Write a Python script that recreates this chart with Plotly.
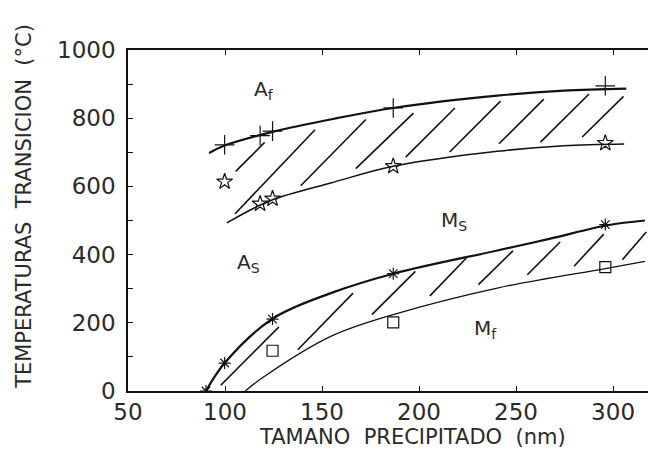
import plotly.graph_objects as go

# ---------------- data ----------------
# measured points
af_x = [99.8, 118.1, 124.5, 186.7, 296.0]
af_y = [722, 749, 762, 830, 895]
as_x = [99.8, 118.1, 124.5, 186.7, 296.0]
as_y = [614, 549, 564, 659, 727]
ms_x = [90.2, 99.8, 124.5, 186.7, 296.0]
ms_y = [0, 82, 211, 344, 488]
mf_x = [124.5, 186.7, 296.0]
mf_y = [118, 201, 363]

# fitted curves
af_cx = [91.8, 99.8, 124.5, 157.7, 186.7, 240.3, 274.6, 306.8]
af_cy = [698, 720, 760, 800, 830, 866, 881, 887]
as_cx = [100.9, 114.8, 124.5, 154.5, 186.7, 240.3, 274.6, 305.7]
as_cy = [493, 536, 561, 610, 659, 703, 719, 724]
ms_cx = [90.2, 99.8, 124.5, 154.5, 186.7, 240.3, 267.1, 297.1, 316.4]
ms_cy = [0, 82, 212, 287, 344, 412, 446, 486, 500]
mf_cx = [110.5, 119.1, 154.5, 186.7, 240.3, 296.0, 316.4]
mf_cy = [0, 38, 160, 224, 302, 359, 380]

# hatch strokes (start/end in data units)
hatch_up_x0 = [105.5, 105.2, 139.0, 167.4, 193.1, 215.8, 241.2, 262.6, 284.1]
hatch_up_y0 = [644, 520, 602, 652, 686, 701, 725, 730, 745]
hatch_up_x1 = [120.4, 146.4, 172.6, 197.1, 218.5, 242.0, 264.3, 287.6, 305.4]
hatch_up_y1 = [729, 766, 796, 815, 830, 850, 856, 871, 864]
hatch_lo_x0 = [97.8, 137.5, 175.7, 205.6, 230.6, 255.8, 279.9, 304.8]
hatch_lo_y0 = [17, 121, 224, 279, 312, 341, 366, 385]
hatch_lo_x1 = [127.8, 166.0, 198.1, 224.4, 248.4, 272.7, 295.2, 317.1]
hatch_lo_y1 = [188, 287, 351, 390, 411, 437, 460, 466]

labels = ["A<sub>f</sub>", "A<sub>S</sub>", "M<sub>S</sub>", "M<sub>f</sub>"]
label_x = [120, 112, 218, 234]
label_y = [884, 376, 500, 182]

x_ticks = [50, 100, 150, 200, 250, 300]
y_ticks = [0, 200, 400, 600, 800, 1000]

NB = "\u00a0\u00a0"
x_title = NB.join(["TAMANO", "PRECIPITADO", "(nm)"])
y_title = NB.join(["TEMPERATURAS", "TRANSICION", "(°C)"])

FONT = "DejaVu Sans ExtraLight, DejaVu Sans"
INK = "#111"
TXT = "#2a2a2a"

fig = go.Figure()

def seg_trace(x0, y0, x1, y1, width):
    xs, ys = [], []
    for a, b, c, d in zip(x0, y0, x1, y1):
        xs += [a, c, None]
        ys += [b, d, None]
    return go.Scatter(x=xs, y=ys, mode="lines", line=dict(color=INK, width=width),
                      hoverinfo="skip", showlegend=False)

fig.add_trace(seg_trace(hatch_up_x0, hatch_up_y0, hatch_up_x1, hatch_up_y1, 1.6))
fig.add_trace(seg_trace(hatch_lo_x0, hatch_lo_y0, hatch_lo_x1, hatch_lo_y1, 1.6))

for cx, cy, w in [(af_cx, af_cy, 2.2), (as_cx, as_cy, 1.5), (ms_cx, ms_cy, 2.2), (mf_cx, mf_cy, 1.3)]:
    fig.add_trace(go.Scatter(x=cx, y=cy, mode="lines",
                             line=dict(color=INK, width=w, shape="spline", smoothing=1.0),
                             showlegend=False, hoverinfo="skip"))

for px, py, sym, sz in [(af_x, af_y, "cross-thin-open", 14), (as_x, as_y, "star-open", 12),
                        (ms_x, ms_y, "asterisk-open", 10), (mf_x, mf_y, "square-open", 11)]:
    fig.add_trace(go.Scatter(x=px, y=py, mode="markers",
                             marker=dict(symbol=sym, size=sz, color=INK,
                                         line=dict(color=INK, width=1.2)),
                             showlegend=False))

for t, lx, ly in zip(labels, label_x, label_y):
    fig.add_annotation(x=lx, y=ly, text=t, showarrow=False,
                       font=dict(family=FONT, size=20, color=TXT))

fig.add_annotation(xref="paper", yref="paper", x=0.548, y=-0.135, text=x_title,
                   showarrow=False, yanchor="middle", xanchor="center",
                   font=dict(family=FONT, size=21, color=TXT))
fig.add_annotation(xref="paper", yref="paper", x=-0.2, y=0.54, text=y_title,
                   showarrow=False, textangle=-90, xanchor="center", yanchor="middle",
                   font=dict(family=FONT, size=21, color=TXT))

axis_common = dict(showline=True, linecolor=INK, linewidth=1.5, ticks="inside",
                   tickcolor=INK, ticklen=5, showgrid=False, zeroline=False,
                   tickfont=dict(family=FONT, size=23, color=TXT))

fig.update_xaxes(range=[50, 318], tickvals=x_ticks, ticktext=[str(v) for v in x_ticks],
                 mirror="ticks", **axis_common)
fig.update_yaxes(range=[0, 1000], tickvals=y_ticks, ticktext=[str(v) for v in y_ticks],
                 minor=dict(dtick=100, ticks="inside", ticklen=5, tickcolor=INK),
                 mirror=False, ticklabelstandoff=6, **axis_common)

fig.update_layout(width=660, height=453, margin=dict(l=120, r=20, t=42, b=70),
                  plot_bgcolor="white", paper_bgcolor="white")

fig.write_html("out.html")
